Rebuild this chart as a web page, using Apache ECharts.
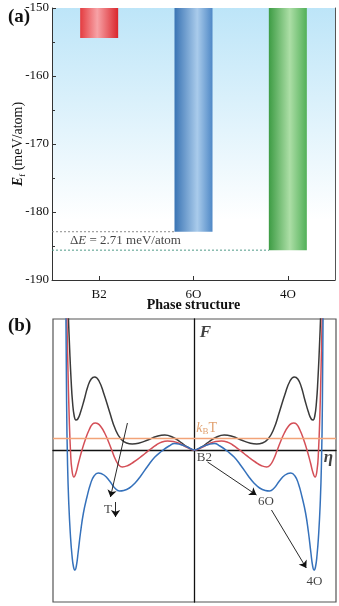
<!DOCTYPE html>
<html>
<head>
<meta charset="utf-8">
<script src="https://cdn.jsdelivr.net/npm/echarts@6/dist/echarts.min.js"></script>
<style>
  html, body { margin: 0; padding: 0; background: #ffffff; }
  #chart { width: 339px; height: 606px; }
</style>
</head>
<body>
<div id="chart"></div>
<script>
// ---------- Panel (a): formation energy of each phase ----------
const phases = ['B2', '6O', '4O'];
const formationEnergy = [-154.4, -182.90, -185.61];   // meV/atom
const energyAxisMin = -190;
const energyAxisMax = -150;
const energyAxisStep = 10;

// ---------- Panel (b): free energy F(η), right half (curves are symmetric) ----------
const blackEta = [0, 0.05, 0.10, 0.15, 0.21, 0.27, 0.33, 0.39, 0.44, 0.48, 0.52, 0.56, 0.60, 0.64, 0.675, 0.705, 0.73, 0.755, 0.78, 0.805, 0.825, 0.838, 0.85, 0.862, 0.872, 0.882, 0.893, 0.90];
const blackF   = [0, 0.03, 0.08, 0.125, 0.15, 0.135, 0.10, 0.07, 0.06, 0.07, 0.11, 0.21, 0.38, 0.56, 0.69, 0.73, 0.71, 0.63, 0.50, 0.38, 0.31, 0.30, 0.34, 0.48, 0.70, 1.00, 1.40, 1.70];

const redEta = [0, 0.05, 0.10, 0.15, 0.19, 0.23, 0.27, 0.31, 0.35, 0.39, 0.43, 0.47, 0.51, 0.535, 0.56, 0.585, 0.61, 0.635, 0.66, 0.685, 0.70, 0.72, 0.745, 0.77, 0.795, 0.82, 0.838, 0.852, 0.866, 0.876, 0.886, 0.895, 0.905];
const redF   = [0, 0.025, 0.06, 0.085, 0.09, 0.08, 0.05, 0.01, -0.035, -0.08, -0.12, -0.155, -0.17, -0.15, -0.09, 0.00, 0.09, 0.17, 0.23, 0.265, 0.27, 0.26, 0.20, 0.11, 0.00, -0.13, -0.23, -0.27, -0.20, -0.02, 0.35, 0.85, 1.50];

const blueEta = [0, 0.05, 0.10, 0.14, 0.18, 0.23, 0.28, 0.33, 0.38, 0.42, 0.46, 0.50, 0.53, 0.56, 0.60, 0.64, 0.68, 0.71, 0.735, 0.76, 0.785, 0.805, 0.822, 0.835, 0.845, 0.855, 0.866, 0.877, 0.888, 0.897, 0.904, 0.91];
const blueF   = [0, 0.03, 0.055, 0.065, 0.04, -0.01, -0.07, -0.16, -0.26, -0.33, -0.38, -0.405, -0.41, -0.385, -0.31, -0.25, -0.23, -0.26, -0.34, -0.47, -0.63, -0.82, -1.02, -1.16, -1.20, -1.17, -1.05, -0.85, -0.55, -0.15, 0.50, 1.60];

const thermalLevel = 0.12;   // k_B T

// Build the full symmetric curve from its right half
function fullCurve(etas, fs) {
  const right = etas.map((e, i) => [e, fs[i]]);
  const left = right.slice(1).reverse().map(([e, f]) => [-e, f]);
  return left.concat(right);
}

const serif = 'Liberation Serif';
const grad = (stops) => new echarts.graphic.LinearGradient(0, 0, 1, 0,
  stops.map(([o, c]) => ({ offset: o, color: c })));

const barColors = [
  grad([[0, '#e43c40'], [0.45, '#f7a2a6'], [1, '#da262c']]),
  grad([[0, '#3a74b4'], [0.6, '#a9cbeb'], [1, '#4f88c6']]),
  grad([[0, '#3d9c44'], [0.55, '#acdea6'], [1, '#52b058']])
];

const deltaE = (formationEnergy[1] - formationEnergy[2]).toFixed(2);

const chart = echarts.init(document.getElementById('chart'), null, { renderer: 'canvas' });

const arrowLine = (from, to) => [{ coord: from }, { coord: to }];
const arrowStyle = {
  silent: true, symbol: ['none', 'arrow'], symbolSize: 7, label: { show: false },
  itemStyle: { color: '#111' }
};

chart.setOption({
  animation: false,
  backgroundColor: '#ffffff',
  textStyle: { fontFamily: serif, color: '#111' },
  title: [
    { text: '(a)', left: 3, top: 3, textStyle: { fontFamily: serif, fontSize: 19, fontWeight: 'bold', color: '#111' } },
    { text: '(b)', left: 3, top: 312, textStyle: { fontFamily: serif, fontSize: 19, fontWeight: 'bold', color: '#111' } }
  ],
  grid: [
    {
      left: 52, right: 4, top: 8, bottom: 326,
      containLabel: false, outerBoundsMode: 'none',
      show: true, borderWidth: 0,
      backgroundColor: new echarts.graphic.LinearGradient(0, 0, 0, 1, [
        { offset: 0, color: '#bde5f8' },
        { offset: 0.45, color: '#e3f4fc' },
        { offset: 0.78, color: '#ffffff' },
        { offset: 1, color: '#ffffff' }
      ])
    },
    {
      left: 53, right: 3, top: 319, bottom: 4,
      containLabel: false, outerBoundsMode: 'none',
      show: true, borderColor: '#555', borderWidth: 1.2, backgroundColor: 'transparent'
    }
  ],
  xAxis: [
    {
      gridIndex: 0, type: 'category', data: phases,
      axisLine: { onZero: false, lineStyle: { color: '#333', width: 1 } },
      axisTick: { show: true, inside: true, alignWithLabel: true, length: 4, lineStyle: { color: '#333' } },
      axisLabel: { margin: 8, fontFamily: serif, fontSize: 13, color: '#111' },
      name: 'Phase structure', nameLocation: 'middle', nameGap: 18, nameMoveOverlap: false,
      nameTextStyle: { fontFamily: serif, fontSize: 14, fontWeight: 'bold', color: '#111' }
    },
    {
      gridIndex: 0, type: 'value', min: -0.5, max: 2.5, show: false
    },
    {
      gridIndex: 1, type: 'value', min: -1, max: 1,
      axisLine: { show: true, onZero: true, lineStyle: { color: '#111', width: 1.3 } },
      axisTick: { show: false }, axisLabel: { show: false }, splitLine: { show: false }
    }
  ],
  yAxis: [
    {
      gridIndex: 0, type: 'value', min: energyAxisMin, max: energyAxisMax, interval: energyAxisStep,
      axisLine: { show: true, onZero: false, lineStyle: { color: '#333', width: 1 } },
      axisTick: { show: true, inside: true, length: 4, lineStyle: { color: '#333' } },
      minorTick: { show: true, splitNumber: 2, length: 3, lineStyle: { color: '#333' } },
      splitLine: { show: false },
      axisLabel: { margin: 3, fontFamily: serif, fontSize: 13, color: '#111' },
      name: '{e|E}{s|f}{n| (meV/atom)}', nameLocation: 'middle', nameGap: 25, nameRotate: 90,
      nameMoveOverlap: false,
      nameTextStyle: {
        rich: {
          e: { fontFamily: serif, fontSize: 14, fontWeight: 'bold', fontStyle: 'italic', color: '#111' },
          s: { fontFamily: serif, fontSize: 9, color: '#111', padding: [8, 0, 0, 0] },
          n: { fontFamily: serif, fontSize: 14, color: '#111' }
        }
      }
    },
    {
      gridIndex: 0, type: 'value', position: 'right', min: energyAxisMin, max: energyAxisMax,
      axisLine: { show: true, onZero: false, lineStyle: { color: '#555', width: 1 } },
      axisTick: { show: false }, axisLabel: { show: false }, splitLine: { show: false }
    },
    {
      gridIndex: 1, type: 'value', min: -1.52, max: 1.31,
      axisLine: { show: true, onZero: true, lineStyle: { color: '#111', width: 1.3 } },
      axisTick: { show: false }, axisLabel: { show: false }, splitLine: { show: false }
    }
  ],
  series: [
    // bars hanging from the top of the energy window
    {
      type: 'bar', xAxisIndex: 0, yAxisIndex: 0, barWidth: 38,
      data: formationEnergy.map((v, i) => ({ value: v, itemStyle: { color: barColors[i] } }))
    },
    // reference levels of the 6O and 4O phases
    {
      type: 'line', xAxisIndex: 1, yAxisIndex: 0, symbol: 'none', silent: true,
      data: [[-0.5, formationEnergy[1]], [0.8, formationEnergy[1]]],
      lineStyle: { color: '#8c8c8c', width: 1, type: [2, 2] }
    },
    {
      type: 'line', xAxisIndex: 1, yAxisIndex: 0, symbol: 'none', silent: true,
      data: [[-0.5, formationEnergy[2]], [1.8, formationEnergy[2]]],
      lineStyle: { color: '#4f9a88', width: 1, type: [2, 2] }
    },
    {
      type: 'scatter', xAxisIndex: 1, yAxisIndex: 0, symbolSize: 0, silent: true,
      data: [[-0.31, -184.15]],
      label: {
        show: true, position: 'inside', align: 'left', verticalAlign: 'middle',
        formatter: '{d|Δ}{e|E}{n| = ' + deltaE + ' meV/atom}',
        rich: {
          d: { fontFamily: serif, fontSize: 13, color: '#111' },
          e: { fontFamily: serif, fontSize: 13, fontStyle: 'italic', color: '#111' },
          n: { fontFamily: serif, fontSize: 13, color: '#111' }
        }
      }
    },
    // free-energy curves
    {
      type: 'line', xAxisIndex: 2, yAxisIndex: 2, symbol: 'none', smooth: 0.5, clip: true,
      data: fullCurve(blackEta, blackF),
      lineStyle: { color: '#3a3a3a', width: 1.5 },
      markLine: {
        silent: true, symbol: 'none', label: { show: false },
        lineStyle: { color: '#f2a378', width: 1.3, type: 'solid' },
        data: [{ yAxis: thermalLevel }]
      }
    },
    {
      type: 'line', xAxisIndex: 2, yAxisIndex: 2, symbol: 'none', smooth: 0.5, clip: true,
      data: fullCurve(redEta, redF),
      lineStyle: { color: '#d44f57', width: 1.5 }
    },
    {
      type: 'line', xAxisIndex: 2, yAxisIndex: 2, symbol: 'none', smooth: 0.5, clip: true,
      data: fullCurve(blueEta, blueF),
      lineStyle: { color: '#3571bb', width: 1.5 }
    },
    // arrows
    {
      type: 'line', xAxisIndex: 2, yAxisIndex: 2, data: [], symbol: 'none',
      markLine: Object.assign({}, arrowStyle, {
        lineStyle: { color: '#111', width: 0.9, type: 'solid' },
        data: [
          arrowLine([0.092, -0.12], [0.438, -0.45]),
          arrowLine([0.544, -0.60], [0.79, -1.18]),
          arrowLine([-0.558, -0.52], [-0.558, -0.67])
        ]
      })
    },
    {
      type: 'line', xAxisIndex: 2, yAxisIndex: 2, data: [], symbol: 'none',
      markLine: Object.assign({}, arrowStyle, {
        lineStyle: { color: '#111', width: 0.9, type: 'solid', curveness: -0.15 },
        data: [arrowLine([-0.474, 0.27], [-0.594, -0.47])]
      })
    },
    // text annotations in panel (b)
    {
      type: 'scatter', xAxisIndex: 2, yAxisIndex: 2, symbolSize: 0, silent: true,
      label: { show: true, position: 'inside', fontFamily: serif, fontSize: 13, color: '#111' },
      data: [
        { value: [0.07, -0.08], label: { formatter: 'B2' } },
        { value: [0.505, -0.52], label: { formatter: '6O' } },
        { value: [0.848, -1.32], label: { formatter: '4O' } },
        { value: [-0.611, -0.60], label: { formatter: 'T' } },
        { value: [0.078, 1.17], label: { formatter: 'F', fontSize: 17, fontWeight: 'bold', fontStyle: 'italic' } },
        { value: [0.947, -0.08], label: { formatter: 'η', fontSize: 17, fontWeight: 'bold', fontStyle: 'italic' } },
        {
          value: [0.012, 0.22],
          label: {
            align: 'left', formatter: '{k|k}{b|B}{t|T}',
            rich: {
              k: { fontFamily: serif, fontSize: 14, fontStyle: 'italic', color: '#d9894c' },
              b: { fontFamily: serif, fontSize: 9, color: '#d9894c', padding: [8, 0, 0, 0] },
              t: { fontFamily: serif, fontSize: 14, color: '#d9894c' }
            }
          }
        }
      ]
    }
  ]
});
</script>
</body>
</html>
